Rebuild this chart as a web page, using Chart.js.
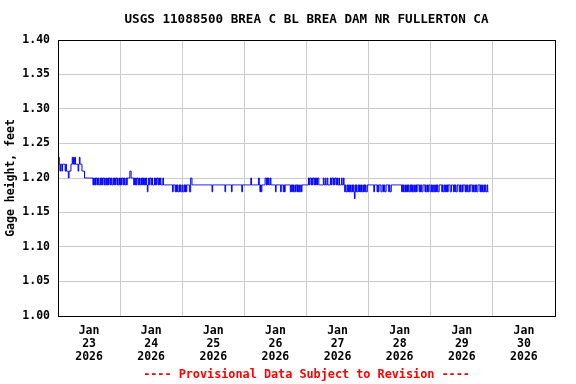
<!DOCTYPE html>
<html><head><meta charset="utf-8">
<script src="https://cdn.jsdelivr.net/npm/chart.js@4/dist/chart.umd.min.js"></script>
<style>html,body{margin:0;padding:0;background:#fff}#wrap{width:576px;height:384px;position:relative}</style>
</head><body><div id="wrap"><canvas id="c" width="576" height="384"></canvas></div>
<script>
const titleText = 'USGS 11088500 BREA C BL BREA DAM NR FULLERTON CA';
const footerText = '---- Provisional Data Subject to Revision ----';
const yAxisTitle = 'Gage height, feet';
const tickMonths = ['Jan','Jan','Jan','Jan','Jan','Jan','Jan','Jan'];
const tickDays = ['23','24','25','26','27','28','29','30'];
const tickYears = ['2026','2026','2026','2026','2026','2026','2026','2026'];
const yTicks = [1.00,1.05,1.10,1.15,1.20,1.25,1.30,1.35,1.40];
const samplesPerDay = 96; // 15-minute readings starting Jan 23 00:00

const gageJan23 = [
  1.23,1.23,1.22,1.21,1.22,1.22,1.21,1.22,1.22,1.22,1.22,1.21,1.22,1.21,1.21,1.21,1.20,1.21,1.21,1.21,1.22,
  1.22,1.23,1.22,1.23,1.22,1.23,1.22,1.22,1.22,1.22,1.21,1.22,1.23,1.22,1.22,1.22,1.21,1.21,1.21,1.21,1.20,
  1.20,1.20,1.20,1.20,1.20,1.20,1.20,1.20,1.20,1.20,1.20,1.20,
  1.19,1.20,1.19,1.20,1.19,1.20,1.20,1.19,1.20,1.19,1.19,1.20,1.19,1.20,1.19,1.20,1.20,1.19,1.20,1.19,
  1.19,1.20,1.19,1.20,1.19,1.20,1.20,1.19,1.20,1.19,1.19,1.20,1.19,1.20,1.19,1.20,1.20,1.19,1.20,1.19,
  1.19,1.20];
const gageJan24 = [
  1.19,1.20,1.19,1.20,1.20,1.19,1.20,1.19,1.19,1.20,1.19,
  1.20,1.20,1.20,1.20,1.21,1.21,1.20,1.20,1.20,1.20,
  1.19,1.20,1.19,1.20,1.19,1.20,1.20,1.19,1.20,1.19,1.19,1.20,1.19,1.20,1.19,1.20,1.19,1.20,1.19,1.20,
  1.19,1.18,1.19,1.20,1.19,1.20,1.20,1.19,1.20,1.19,1.19,1.19,1.20,1.19,1.20,1.19,1.20,1.20,1.19,1.20,
  1.19,1.20,1.19,
  1.19,1.19,1.20,1.19,1.19,1.19,1.19,1.19,1.19,1.19,1.19,1.19,1.19,1.19,1.19,1.19,
  1.19,1.18,1.19,1.19,1.19,1.18,1.19,1.18,1.19,1.18,1.18,1.19,1.18,1.19,1.18,1.18];
const gageJan25 = [
  1.19,1.18,1.18,1.19,1.18,1.19,1.18,1.19,1.19,1.19,1.19,1.18,1.18,1.20,1.20,1.19,1.19,1.19,
  1.19,1.19,1.19,1.19,1.19,1.19,1.19,1.19,1.19,1.19,1.19,1.19,1.19,1.19,
  1.19,1.19,1.19,1.19,1.19,1.19,1.19,1.19,1.19,1.19,1.19,1.19,1.19,1.19,
  1.18,
  1.19,1.19,1.19,1.19,1.19,1.19,1.19,1.19,1.19,1.19,1.19,1.19,1.19,1.19,1.19,1.19,1.19,1.19,1.19,
  1.18,
  1.19,1.19,1.19,1.19,1.19,1.19,1.19,1.19,1.19,
  1.18,
  1.19,1.19,1.19,1.19,1.19,1.19,1.19,1.19,1.19,1.19,1.19,1.19,1.19,1.19,1.19,
  1.18,
  1.19,1.19,1.19];
const gageJan26 = [
  1.19,1.19,1.19,1.19,1.19,1.19,1.19,1.19,1.19,1.19,1.20,
  1.19,1.19,1.19,1.19,1.19,1.19,1.19,1.19,1.19,1.19,1.19,
  1.20,1.19,1.18,1.19,1.18,1.19,1.19,1.19,1.19,1.19,
  1.20,1.20,1.19,1.20,1.19,1.20,1.19,1.19,1.20,1.19,
  1.19,1.19,1.19,1.19,1.19,1.19,1.18,1.19,1.19,1.19,1.19,1.19,1.19,1.19,
  1.18,1.19,1.19,1.19,1.18,1.19,1.18,
  1.19,1.19,1.19,1.19,1.19,1.19,1.19,1.19,
  1.18,1.19,1.18,1.19,1.18,1.19,1.18,1.18,1.19,1.19,
  1.18,1.19,1.18,1.19,1.18,1.18,1.19,1.18,1.19,
  1.19,1.19,1.19,1.19,1.19,1.19];
const gageJan27 = [
  1.19,1.19,1.19,
  1.20,1.19,1.20,1.20,1.19,1.20,1.19,1.20,1.20,1.19,1.20,1.19,1.20,1.19,1.20,1.20,1.19,
  1.19,1.19,1.19,1.19,1.19,1.19,
  1.20,1.19,1.19,1.20,1.19,1.19,1.20,
  1.19,1.19,1.19,1.19,
  1.20,1.19,1.20,1.20,1.19,1.20,1.19,1.20,1.20,1.19,1.20,1.19,
  1.19,1.20,1.19,1.19,1.19,1.20,1.19,1.19,1.20,1.19,
  1.18,1.19,1.18,1.18,1.19,1.18,1.19,1.18,1.19,1.18,1.18,1.19,1.18,1.19,1.18,1.17,1.19,1.18,
  1.19,1.18,1.18,1.19,1.18,1.19,1.18,1.19,1.18,1.18,1.19,1.18,1.19,1.18,1.19,1.18,1.18,1.19,
  1.19];
const gageJan28 = [
  1.19,1.19,1.19,1.19,1.19,1.19,1.19,1.19,1.18,1.19,1.19,1.19,1.19,
  1.18,1.19,1.18,1.19,1.19,1.19,1.18,1.18,1.19,1.19,1.18,1.19,1.18,1.18,
  1.19,1.19,1.19,1.19,1.18,1.19,1.18,1.18,
  1.19,1.19,1.19,1.19,1.19,1.19,1.19,1.19,1.19,1.19,1.19,1.19,1.19,1.19,1.19,1.19,
  1.18,1.19,1.18,1.19,1.18,1.18,1.19,1.18,1.19,1.18,1.19,1.18,1.18,1.19,1.18,1.19,1.18,1.19,1.18,1.18,
  1.19,1.18,1.19,1.18,
  1.19,1.19,1.19,
  1.18,1.19,1.18,1.19,1.18,1.18,1.19,
  1.19,1.19,
  1.18,1.19,1.18,1.18,1.19,1.18,
  1.19,1.19,1.18];
const gageJan29 = [
  1.18,1.19,1.18,1.19,1.18,1.18,1.19,1.18,1.19,1.18,1.19,1.18,1.18,1.19,
  1.19,1.19,1.19,
  1.18,1.19,1.18,1.18,1.19,1.18,1.19,1.18,1.19,1.18,
  1.19,1.19,1.19,1.18,1.18,1.19,1.19,1.19,
  1.18,1.19,1.18,1.19,1.18,1.18,1.19,1.19,1.19,
  1.18,1.19,1.18,1.18,1.19,1.18,1.19,1.19,1.19,
  1.18,1.19,1.18,1.19,1.18,1.18,1.19,1.18,1.19,1.19,1.19,
  1.18,1.19,1.18,1.18,1.19,1.18,1.19,1.18,1.18,1.19,1.19,1.19,
  1.18,1.19,1.18,1.19,1.18,1.18,1.19,1.18,1.19,1.18,1.18,1.19,1.18,1.18];

const gageValues = [].concat(gageJan23, gageJan24, gageJan25, gageJan26, gageJan27, gageJan28, gageJan29);
const points = gageValues.map((v, i) => ({x: i / samplesPerDay, y: v}));

const FONT = '"DejaVu Sans Mono", "Liberation Mono", monospace';

const framePlugin = {
  id: 'frame',
  afterDraw(chart) {
    const {ctx, chartArea: a} = chart;
    ctx.save();
    ctx.strokeStyle = '#000';
    ctx.lineWidth = 1;
    ctx.strokeRect(Math.round(a.left) + 0.5, Math.round(a.top) + 0.5, Math.round(a.right - a.left), Math.round(a.bottom - a.top));
    const cx = (a.left + a.right) / 2;
    ctx.textAlign = 'center';
    ctx.textBaseline = 'middle';
    ctx.fillStyle = '#000';
    ctx.font = 'bold 12.6px ' + FONT;
    ctx.fillText(titleText, cx, 20);
    ctx.fillStyle = '#ff0000';
    ctx.font = 'bold 11.8px ' + FONT;
    ctx.fillText(footerText, cx, 375);
    ctx.restore();
  }
};

new Chart(document.getElementById('c'), {
  type: 'line',
  data: {
    datasets: [{
      data: points,
      borderColor: '#0000ff',
      borderWidth: 1,
      pointRadius: 0,
      stepped: true,
      fill: false
    }]
  },
  options: {
    responsive: false,
    animation: false,
    devicePixelRatio: 1,
    layout: {padding: {top: 40, right: 21, left: 0, bottom: 0}},
    plugins: {legend: {display: false}, tooltip: {enabled: false}, title: {display: false}},
    scales: {
      x: {
        type: 'linear',
        min: 0, max: 8,
        afterBuildTicks: s => { const t = []; for (let k = 0; k <= 16; k++) t.push({value: k / 2}); s.ticks = t; },
        afterFit: s => { s.height = 68; },
        ticks: {
          autoSkip: false, maxRotation: 0, minRotation: 0,
          padding: 9,
          color: '#000',
          font: {family: FONT, weight: 'bold', size: 11.5, lineHeight: 1.13},
          callback: v => {
            if (Math.abs(v - Math.floor(v) - 0.5) < 1e-6) {
              const d = Math.floor(v);
              return [tickMonths[d], tickDays[d], tickYears[d]];
            }
            return '';
          }
        },
        grid: {
          drawTicks: false,
          color: c => (c.tick && Math.abs(c.tick.value - Math.round(c.tick.value)) < 1e-6) ? '#cccccc' : 'rgba(0,0,0,0)',
          lineWidth: 1
        },
        border: {display: false}
      },
      y: {
        min: 1.0, max: 1.4,
        afterBuildTicks: s => { s.ticks = yTicks.map(v => ({value: v})); },
        afterFit: s => { s.width = 58; },
        ticks: {
          padding: 8,
          color: '#000',
          font: {family: FONT, weight: 'bold', size: 11.5},
          callback: v => Number(v).toFixed(2)
        },
        grid: {drawTicks: false, color: '#cccccc', lineWidth: 1},
        border: {display: false},
        title: {
          display: true,
          text: yAxisTitle,
          color: '#000',
          font: {family: FONT, weight: 'bold', size: 11.5},
          padding: {top: 4.5, bottom: 2}
        }
      }
    }
  },
  plugins: [framePlugin]
});
</script>
</body></html>
